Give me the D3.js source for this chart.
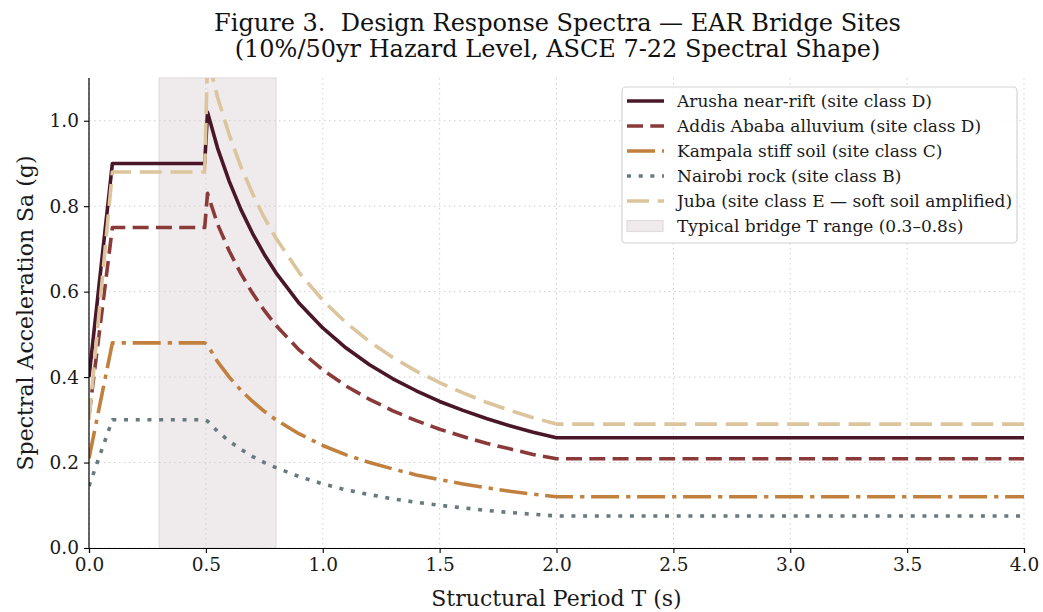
<!DOCTYPE html>
<html>
<head>
<meta charset="utf-8">
<script src="https://cdn.jsdelivr.net/npm/d3@7/dist/d3.min.js"></script>
<style>
  html, body { margin: 0; padding: 0; background: #fff; }
  svg { display: block; font-family: "DejaVu Serif", serif; }
  text { white-space: pre; }
</style>
</head>
<body>
<svg id="chart" width="1043" height="612"></svg>
<script>
// ---- data ----
const periods = [0, 0.1, 0.495, 0.507, 0.55, 0.6, 0.65, 0.7, 0.75, 0.8, 0.9, 1.0, 1.1, 1.2, 1.3, 1.4, 1.5, 1.6, 1.7, 1.8, 1.9, 2.0, 4.0];
const arusha  = [0.40, 0.90, 0.90, 1.02, 0.936, 0.858, 0.792, 0.736, 0.687, 0.644, 0.572, 0.515, 0.468, 0.429, 0.396, 0.368, 0.343, 0.322, 0.303, 0.286, 0.271, 0.258, 0.258];
const addis   = [0.31, 0.75, 0.75, 0.83, 0.758, 0.695, 0.642, 0.596, 0.556, 0.521, 0.463, 0.417, 0.379, 0.348, 0.321, 0.298, 0.278, 0.261, 0.245, 0.232, 0.219, 0.209, 0.209];
const kampala = [0.21, 0.48, 0.48, 0.475, 0.436, 0.400, 0.369, 0.343, 0.320, 0.300, 0.267, 0.240, 0.218, 0.200, 0.185, 0.171, 0.160, 0.150, 0.141, 0.133, 0.126, 0.120, 0.120];
const nairobi = [0.145, 0.30, 0.30, 0.297, 0.273, 0.250, 0.231, 0.214, 0.200, 0.188, 0.167, 0.150, 0.136, 0.125, 0.115, 0.107, 0.100, 0.094, 0.088, 0.083, 0.079, 0.075, 0.075];
const juba    = [0.30, 0.88, 0.88, 1.15, 1.055, 0.967, 0.892, 0.829, 0.773, 0.725, 0.644, 0.580, 0.527, 0.483, 0.446, 0.414, 0.387, 0.363, 0.341, 0.322, 0.305, 0.290, 0.290];

const seriesNames = [
  "Arusha near-rift (site class D)",
  "Addis Ababa alluvium (site class D)",
  "Kampala stiff soil (site class C)",
  "Nairobi rock (site class B)",
  "Juba (site class E \u2014 soft soil amplified)"
];
const bridgeRange = [0.3, 0.8];
const bridgeLabel = "Typical bridge T range (0.3\u20130.8s)";
const xTicks = [0, 0.5, 1.0, 1.5, 2.0, 2.5, 3.0, 3.5, 4.0];
const yTicks = [0, 0.2, 0.4, 0.6, 0.8, 1.0];
const titleLines = ["Figure 3.  Design Response Spectra \u2014 EAR Bridge Sites",
                    "(10%/50yr Hazard Level, ASCE 7-22 Spectral Shape)"];
const xLabel = "Structural Period T (s)";
const yLabel = "Spectral Acceleration Sa (g)";

// ---- styles ----
const styles = [
  { color: "#4a1728", dash: null,            width: 3.6 },
  { color: "#8b3a3a", dash: "16,7.3",        width: 3.6 },
  { color: "#c1803e", dash: "28,7,4.3,6.7",  width: 3.6 },
  { color: "#677a7d", dash: "4,7.7",         width: 3.6 },
  { color: "#dcc59d", dash: "22,8.7",        width: 3.6 }
];
const seriesValues = [arusha, addis, kampala, nairobi, juba];

const W = 1043, H = 612;
const m = { left: 89, right: 19, top: 78, bottom: 64 };
const iw = W - m.left - m.right, ih = H - m.top - m.bottom;

const svg = d3.select("#chart");
const x = d3.scaleLinear().domain([0, 4]).range([m.left, m.left + iw]);
const y = d3.scaleLinear().domain([0, 1.1]).range([m.top + ih, m.top]);

svg.append("defs").append("clipPath").attr("id", "clip")
  .append("rect").attr("x", m.left).attr("y", m.top).attr("width", iw).attr("height", ih);

// shaded bridge range
svg.append("rect")
  .attr("x", x(bridgeRange[0])).attr("y", m.top)
  .attr("width", x(bridgeRange[1]) - x(bridgeRange[0])).attr("height", ih)
  .attr("fill", "#efeaec").attr("stroke", "#e2dbde").attr("stroke-width", 1.2);

// grid
const grid = svg.append("g").attr("stroke", "#cfcfcf").attr("stroke-width", 1).attr("stroke-dasharray", "1.5,3.5");
xTicks.forEach(t => grid.append("line").attr("x1", x(t)).attr("x2", x(t)).attr("y1", m.top).attr("y2", m.top + ih));
yTicks.forEach(t => grid.append("line").attr("x1", m.left).attr("x2", m.left + iw).attr("y1", y(t)).attr("y2", y(t)));

// lines
const line = d3.line().x(d => x(d[0])).y(d => y(d[1]));
const plot = svg.append("g").attr("clip-path", "url(#clip)");
seriesValues.forEach((vals, i) => {
  const pts = periods.map((t, k) => [t, vals[k]]);
  plot.append("path").datum(pts)
    .attr("d", line)
    .attr("fill", "none")
    .attr("stroke", styles[i].color)
    .attr("stroke-width", styles[i].width)
    .attr("stroke-dasharray", styles[i].dash)
    .attr("stroke-linejoin", "round")
    .attr("stroke-linecap", "butt");
});

// axes
const xAxis = d3.axisBottom(x).tickValues(xTicks).tickFormat(d3.format(".1f")).tickSizeOuter(0).tickSize(5).tickPadding(5);
const yAxis = d3.axisLeft(y).tickValues(yTicks).tickFormat(d3.format(".1f")).tickSizeOuter(0).tickSize(5).tickPadding(5);
const gx = svg.append("g").attr("transform", `translate(0,${m.top + ih})`).call(xAxis);
const gy = svg.append("g").attr("transform", `translate(${m.left},0)`).call(yAxis);
[gx, gy].forEach(g => {
  g.select(".domain").attr("stroke", "#000").attr("stroke-width", 1.2);
  g.selectAll(".tick line").attr("stroke", "#000").attr("stroke-width", 1.1);
  g.selectAll(".tick text").attr("fill", "#1a1a1a").style("font-size", "18.5px").style("font-family", "DejaVu Serif");
});
gy.select(".domain").attr("d", `M0,${m.top + ih}V${m.top}`);

// axis labels
svg.append("text").attr("x", m.left + iw / 2).attr("y", 606)
  .attr("text-anchor", "middle").style("font-size", "22px").attr("fill", "#1a1a1a").text(xLabel);
svg.append("text").attr("transform", `translate(33,${m.top + ih / 2}) rotate(-90)`)
  .attr("text-anchor", "middle").style("font-size", "22px").attr("fill", "#1a1a1a").text(yLabel);

// title
svg.append("text").attr("x", m.left + iw / 2 + 1).attr("y", 31)
  .attr("text-anchor", "middle").style("font-size", "24px").attr("fill", "#111").text(titleLines[0]);
svg.append("text").attr("x", m.left + iw / 2 + 1).attr("y", 57)
  .attr("text-anchor", "middle").style("font-size", "24px").attr("fill", "#111").text(titleLines[1]);

// legend
const lg = svg.append("g");
const lx = 622, ly = 87, lw = 395, lh = 156;
lg.append("rect").attr("x", lx).attr("y", ly).attr("width", lw).attr("height", lh)
  .attr("rx", 4).attr("fill", "#fff").attr("fill-opacity", 0.85).attr("stroke", "#d4d4d4").attr("stroke-width", 1.2);
const rowY = k => 101 + k * 25;
seriesNames.forEach((name, i) => {
  lg.append("line").attr("x1", 627).attr("x2", 664).attr("y1", rowY(i)).attr("y2", rowY(i))
    .attr("stroke", styles[i].color).attr("stroke-width", styles[i].width)
    .attr("stroke-dasharray", styles[i].dash);
  lg.append("text").attr("x", 677).attr("y", rowY(i)).attr("dy", "0.35em")
    .style("font-size", "17px").attr("fill", "#1a1a1a").text(name);
});
lg.append("rect").attr("x", 627).attr("y", rowY(5) - 5.5).attr("width", 36).attr("height", 11)
  .attr("fill", "#efeaec").attr("stroke", "#e2dbde").attr("stroke-width", 1.2);
lg.append("text").attr("x", 677).attr("y", rowY(5)).attr("dy", "0.35em")
  .style("font-size", "17px").attr("fill", "#1a1a1a").text(bridgeLabel);
</script>
</body>
</html>
